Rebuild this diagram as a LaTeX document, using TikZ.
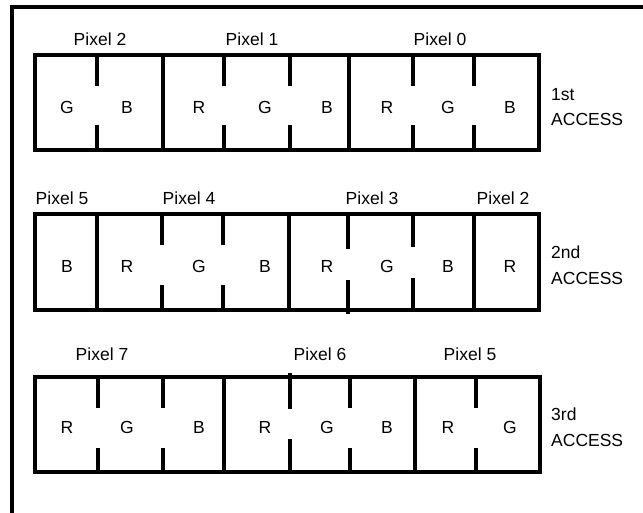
\documentclass[tikz,border=0pt]{standalone}
\usepackage{fontspec}
\setmainfont{Liberation Sans}
\begin{document}
\begin{tikzpicture}
[x=1pt,y=-1pt,
  frameDecorate/.style={line width=4pt},
  lineDecorate/.style={line width=3.2pt},
  textDecorate/.style={inner sep=0pt,font=\fontsize{17.5}{20}\selectfont},
  accessDecorate/.style={inner sep=0pt,anchor=west,align=left,
    font=\fontsize{17.5}{25.5}\selectfont}]
\useasboundingbox (0,0) rectangle (643,512);
%% outer frame
\draw[frameDecorate] (12,514) -- (12,7) -- (645,7);

%% 1st access
\foreach \n/\x in {0/35,1/97,2/163,3/224,4/290,5/349,6/413,7/474,8/539}
{
  \coordinate (A\n t) at (\x,55);
  \coordinate (A\n b) at (\x,150);
}
\draw[lineDecorate] (A0t) rectangle (A8b);
\foreach \n in {A2,A5}
  \draw[lineDecorate] (\n t) -- (\n b);
\foreach \n in {A1,A3,A4,A6,A7}
{
  \draw[lineDecorate] (\n t) -- ++(0,31) (\n b) -- ++(0,-25);
}
\foreach \n/\x/\lab in {1/67/G, 2/127/B, 3/199/R, 4/265/G, 5/327/B, 6/387/R,
  7/448/G, 8/510/B}
{
  \node (Ac\n) at (\x,107) [textDecorate] {\lab};
}
\node (pixA2) at (100,39) [textDecorate] {Pixel 2};
\node (pixA1) at (252,39) [textDecorate] {Pixel 1};
\node (pixA0) at (440,39) [textDecorate] {Pixel 0};
\node (accA) at (551,107) [accessDecorate] {1st\\ACCESS};

%% 2nd access
\foreach \n/\x in {0/35,1/97,2/162,3/223,4/289,5/348,6/413,7/474,8/539}
{
  \coordinate (B\n t) at (\x,214);
  \coordinate (B\n b) at (\x,310);
}
\draw[lineDecorate] (B0t) rectangle (B8b);
\foreach \n in {B1,B4,B7}
  \draw[lineDecorate] (\n t) -- (\n b);
\foreach \n in {B2,B3}
{
  \draw[lineDecorate] (\n t) -- ++(0,31) (\n b) -- ++(0,-25);
}
\draw[lineDecorate] (B5t) -- ++(0,35) (B5b) ++(0,4) -- ++(0,-34);
\draw[lineDecorate] (B6t) -- ++(0,33) (B6b) -- ++(0,-32);
\foreach \n/\x/\lab in {1/67/B, 2/127/R, 3/199/G, 4/265/B, 5/327/R, 6/387/G,
  7/448/B, 8/510/R}
{
  \node (Bc\n) at (\x,266) [textDecorate] {\lab};
}
\node (pixB5) at (62,198) [textDecorate] {Pixel 5};
\node (pixB4) at (189,198) [textDecorate] {Pixel 4};
\node (pixB3) at (372,198) [textDecorate] {Pixel 3};
\node (pixB2) at (503,198) [textDecorate] {Pixel 2};
\node (accB) at (551,265) [accessDecorate] {2nd\\ACCESS};

%% 3rd access
\foreach \n/\x in {0/35,1/98,2/163,3/224,4/290,5/350,6/415,7/476,8/540}
{
  \coordinate (C\n t) at (\x,377);
  \coordinate (C\n b) at (\x,472);
}
\draw[lineDecorate] (C0t) rectangle (C8b);
\foreach \n in {C3,C6}
  \draw[lineDecorate] (\n t) -- (\n b);
\foreach \n in {C1,C2,C5,C7}
{
  \draw[lineDecorate] (\n t) -- ++(0,31) (\n b) -- ++(0,-24);
}
\draw[lineDecorate] (C4t) ++(0,-4) -- ++(0,36) (C4b) ++(0,2) -- ++(0,-35);
\foreach \n/\x/\lab in {1/67/R, 2/127/G, 3/199/B, 4/265/R, 5/327/G, 6/387/B,
  7/448/R, 8/510/G}
{
  \node (Cc\n) at (\x,427) [textDecorate] {\lab};
}
\node (pixC7) at (102,354) [textDecorate] {Pixel 7};
\node (pixC6) at (320,354) [textDecorate] {Pixel 6};
\node (pixC5) at (470,354) [textDecorate] {Pixel 5};
\node (accC) at (551,427) [accessDecorate] {3rd\\ACCESS};
\end{tikzpicture}
\end{document}
